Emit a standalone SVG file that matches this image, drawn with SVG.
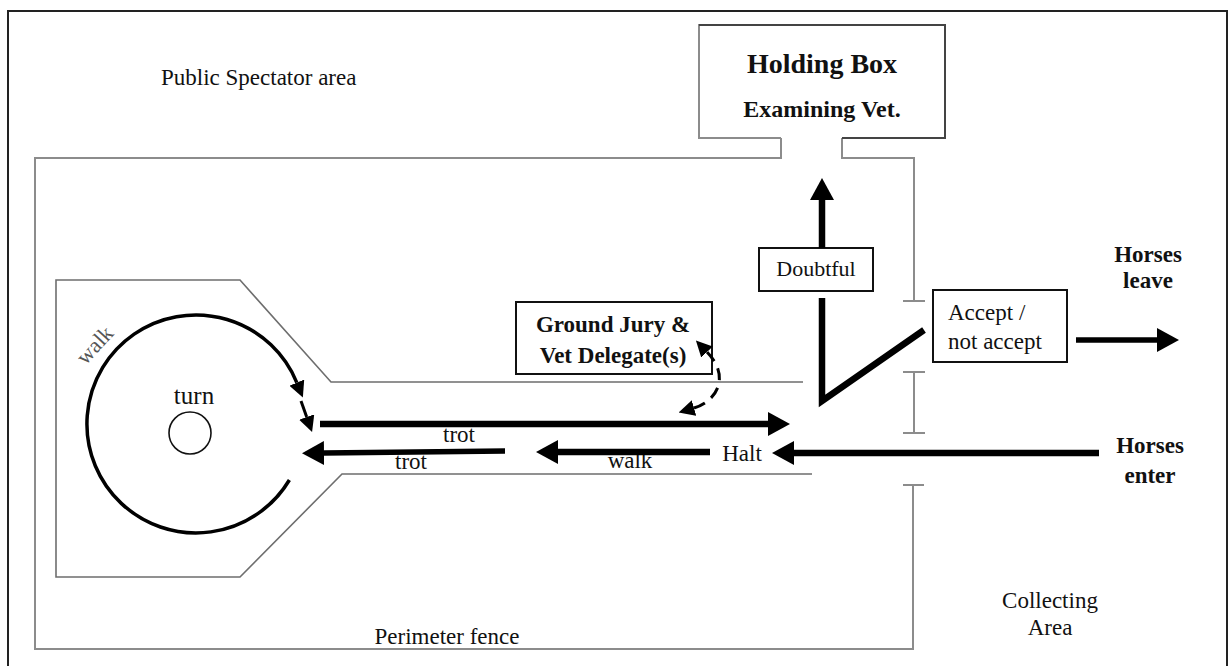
<svg xmlns="http://www.w3.org/2000/svg" width="1228" height="666" viewBox="0 0 1228 666">
<style>
.t{font-family:"Liberation Serif","Times New Roman",serif;font-size:23px;fill:#111}
.b{font-weight:bold}
.fence{fill:none;stroke:#8c8c8c;stroke-width:2}
.track{fill:none;stroke:#6e6e6e;stroke-width:1.6}
.box{fill:#fff;stroke:#111;stroke-width:2}
.thick{fill:none;stroke:#000;stroke-width:6.5}
.mid{fill:none;stroke:#000;stroke-width:5.5}
</style>
<defs>
<marker id="ah" markerUnits="userSpaceOnUse" viewBox="0 0 22 24" markerWidth="22" markerHeight="24" refX="0" refY="12" orient="auto">
<path d="M0,0 L22,12 L0,24 z" fill="#000"/>
</marker>
<marker id="ahs" markerUnits="userSpaceOnUse" viewBox="0 0 16 16" markerWidth="16" markerHeight="16" refX="0" refY="8" orient="auto-start-reverse">
<path d="M0,0 L16,8 L0,16 z" fill="#000"/>
</marker>
</defs>
<rect width="1228" height="666" fill="#fff"/>
<g id="frame">
<path d="M8 666 L8 11 L1227 11 L1227 666" fill="none" stroke="#222" stroke-width="2"/>
</g>
<g id="perimeter-fence">
<path class="fence" d="M781 138 L781 158 L35 158 L35 649 L913 649 L913 485"/>
<path class="fence" d="M903 485 H924"/>
<path class="fence" d="M842 138 L842 158 L914 158 L914 301 M903 301 H925"/>
<path class="fence" d="M903 372 H925 M914 372 V433 M903 433 H925"/>
</g>
<g id="track">
<path class="track" d="M803 382 L331 382 L240 280 L56 280 L56 577 L240 577 L342 474 L812 474"/>
<circle cx="190" cy="433" r="21" fill="none" stroke="#111" stroke-width="1.6"/>
</g>
<g id="holding-box">
<path class="fence" d="M781 138 L699 138 L699 25 L945 25"/>
<path fill="none" stroke="#444" stroke-width="2" d="M699 25 L945 25 L945 138 L842 138"/>
<text class="t b" x="822" y="73" font-size="28" text-anchor="middle" style="font-size:28px">Holding Box</text>
<text class="t b" x="822" y="117" text-anchor="middle" style="font-size:24px">Examining Vet.</text>
</g>
<g id="doubtful">
<rect class="box" x="759" y="248" width="114" height="43"/>
<text class="t" x="816" y="276" text-anchor="middle" style="font-size:22px">Doubtful</text>
</g>
<g id="ground-jury">
<rect class="box" x="516" y="302" width="196" height="72"/>
<text class="t b" x="613" y="332" text-anchor="middle">Ground Jury &amp;</text>
<text class="t b" x="613" y="363" text-anchor="middle">Vet Delegate(s)</text>
</g>
<g id="accept">
<rect class="box" x="933" y="290" width="134" height="72"/>
<text class="t" x="948" y="320">Accept /</text>
<text class="t" x="948" y="349">not accept</text>
</g>
<g id="labels">
<text class="t" x="161" y="85">Public Spectator area</text>
<text class="t" x="194" y="404" text-anchor="middle" style="font-size:25px">turn</text>
<text class="t" x="0" y="0" fill="#555" style="fill:#555;font-size:22px" transform="translate(100 350) rotate(-47)" text-anchor="middle">walk</text>
<text class="t" x="459" y="442" text-anchor="middle">trot</text>
<text class="t" x="411" y="469" text-anchor="middle">trot</text>
<text class="t" x="630" y="468" text-anchor="middle">walk</text>
<text class="t" x="742" y="461" text-anchor="middle">Halt</text>
<text class="t b" x="1148" y="262" text-anchor="middle">Horses</text>
<text class="t b" x="1148" y="288" text-anchor="middle">leave</text>
<text class="t b" x="1150" y="453" text-anchor="middle">Horses</text>
<text class="t b" x="1150" y="483" text-anchor="middle">enter</text>
<text class="t" x="1050" y="608" text-anchor="middle">Collecting</text>
<text class="t" x="1050" y="635" text-anchor="middle">Area</text>
<text class="t" x="447" y="644" text-anchor="middle">Perimeter fence</text>
</g>
<g id="connectors">
<path d="M289.4 480 A109 109 0 1 1 296.8 382.6" fill="none" stroke="#000" stroke-width="3.5" marker-end="url(#ahs)"/>
<path d="M301 401 L306.7 417" fill="none" stroke="#000" stroke-width="3" marker-end="url(#ahs)"/>
<path class="thick" d="M822 248 L822 200" marker-end="url(#ah)"/>
<path class="thick" d="M822 298 L822 401 L924 330" stroke-linejoin="miter"/>
<path class="mid" d="M1076 340 L1157 340" marker-end="url(#ah)"/>
<path class="thick" d="M320 424 L768 424" marker-end="url(#ah)"/>
<path class="mid" d="M505 451 L324 453" marker-end="url(#ah)"/>
<path class="thick" d="M710 452 L558 452" marker-end="url(#ah)"/>
<path class="thick" d="M1099 453 L794 453" marker-end="url(#ah)"/>
<path d="M694 408 C715 402 732 378 707 352" fill="none" stroke="#000" stroke-width="3" stroke-dasharray="12 8" marker-start="url(#ahs)" marker-end="url(#ahs)"/>
</g>
</svg>
